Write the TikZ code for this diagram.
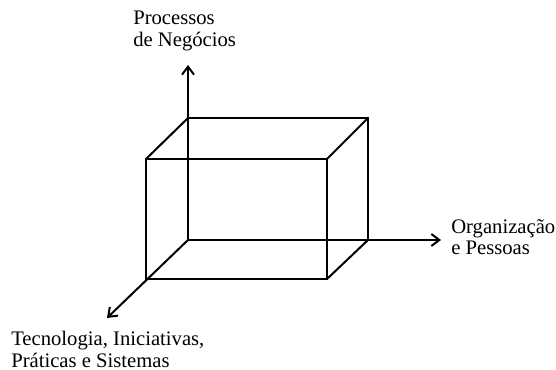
\documentclass[tikz,border=0pt]{standalone}
\usepackage{fontspec}
\setmainfont{Liberation Serif}
\usetikzlibrary{arrows.meta}

\begin{document}
\begin{tikzpicture}[x=0.75pt, y=-0.75pt,
  every node/.style={font=\fontsize{15.5}{16.3}\selectfont},
  edge/.style={line width=1.5pt, black},
  axis/.style={line width=1.5pt, black, -{Straight Barb[length=6pt, width=9pt]}},
  axislabel/.style={align=left, inner sep=0pt, anchor=north west}
]
\useasboundingbox (0,0) rectangle (556,370);

% Back face (corner o is the origin of the axes)
\coordinate (o) at (188,240);
\coordinate (bt) at (188,118);
\coordinate (btr) at (368,118);
\coordinate (br) at (368,240);
% Front face
\coordinate (fb) at (146,279);
\coordinate (ft) at (146,159);
\coordinate (ftr) at (327,159);
\coordinate (fbr) at (327,279);
% Axis ends
\coordinate (yend) at (188,65);
\coordinate (xend) at (441,240);
\coordinate (zend) at (107,318);

% Axes
\draw[axis] (o) -- (yend);
\draw[axis] (o) -- (xend);
\draw[axis] (o) -- (zend);

% Box
\draw[edge] (bt) -- (btr) -- (br);
\draw[edge] (ft) rectangle (fbr);
\draw[edge] (ft) -- (bt);
\draw[edge] (ftr) -- (btr);
\draw[edge] (fbr) -- (br);

% Labels
\node[axislabel] (proc) at (133,11) {Processos\\de Negócios};
\node[axislabel] (org) at (451,219) {Organização\\e Pessoas};
\node[axislabel] (tec) at (11,331) {Tecnologia, Iniciativas,\\Práticas e Sistemas};
\end{tikzpicture}
\end{document}
